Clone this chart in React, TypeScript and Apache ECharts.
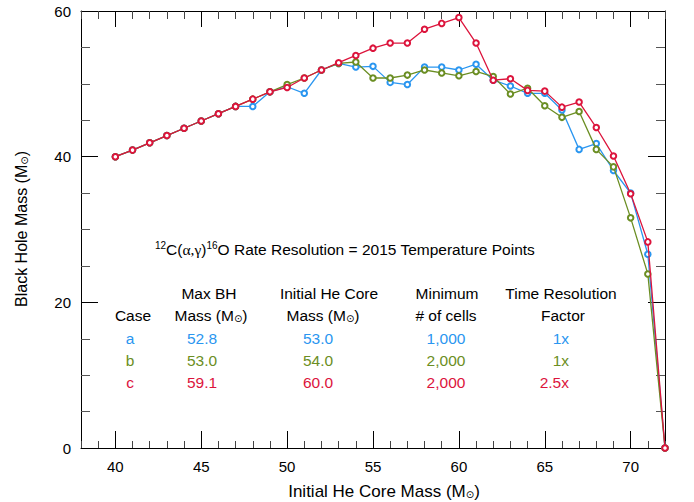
import React, { useEffect, useRef } from 'react';
import * as echarts from 'echarts';

const initialMass = [40, 41, 42, 43, 44, 45, 46, 47, 48, 49, 50, 51, 52, 53, 54, 55, 56, 57, 58, 59, 60, 61, 62, 63, 64, 65, 66, 67, 68, 69, 70, 71, 72];
const caseA = [40.0, 40.9, 41.9, 42.9, 43.9, 44.9, 45.9, 46.9, 46.9, 48.9, 49.6, 48.7, 51.9, 52.8, 52.3, 52.4, 50.2, 49.9, 52.3, 52.3, 51.9, 52.7, 50.5, 49.7, 48.7, 48.7, 46.4, 41.0, 41.8, 38.1, 35.0, 26.6, 0];
const caseB = [40.0, 40.9, 41.9, 42.9, 43.9, 44.9, 45.9, 46.9, 47.9, 48.9, 49.9, 50.8, 51.9, 52.8, 53.0, 50.8, 50.8, 51.2, 51.9, 51.5, 51.1, 51.7, 51.0, 48.6, 49.4, 47.0, 45.4, 46.2, 41.0, 38.6, 31.6, 23.9, 0];
const caseC = [40.0, 40.9, 41.9, 42.9, 43.9, 44.9, 45.9, 46.9, 47.9, 48.9, 49.5, 50.8, 51.9, 52.9, 53.9, 54.9, 55.6, 55.6, 57.5, 58.3, 59.1, 55.6, 50.5, 50.7, 49.1, 49.0, 46.8, 47.5, 44.0, 40.1, 34.9, 28.3, 0];

const caseNames = ['a', 'b', 'c'];
const maxBH = ['52.8', '53.0', '59.1'];
const heCore = ['53.0', '54.0', '60.0'];
const minCells = ['1,000', '2,000', '2,000'];
const timeRes = ['1x', '1x', '2.5x'];

const COLORS = ['#2a96f0', '#6b8e23', '#dc143c'];
const FONT = '"Liberation Sans", Arial, Helvetica, sans-serif';

export default function App() {
  const ref = useRef<HTMLDivElement>(null);
  useEffect(() => {
    const chart = echarts.init(ref.current!, null, { renderer: 'svg' });
    const L = 81, T = 11, W = 584, H = 437;
    const pxPer = W / 34;
    const mk = (vals: number[]) => initialMass.map((x, i) => [x, vals[i]]);
    const allSeries = [caseA, caseB, caseC].map((vals, i) => ({
      type: 'line',
      name: caseNames[i],
      xAxisIndex: 0,
      yAxisIndex: 0,
      data: mk(vals),
      symbol: 'emptyCircle',
      symbolSize: 5.5,
      showAllSymbol: true,
      itemStyle: { color: COLORS[i], borderColor: COLORS[i], borderWidth: 0.9 },
      lineStyle: { color: COLORS[i], width: 1.3 },
      z: 3 + i,
    }));

    const baseText = { fontFamily: FONT, fontSize: 15.5, fill: '#000' };
    const sunRich = { s: { fontSize: 10, fontFamily: '"DejaVu Sans", sans-serif', padding: [6, 0, 0, 0] } };
    const graphics: any[] = [];
    const txt = (x: number, y: number, text: string, color = '#000', align = 'center', extra: any = {}) => {
      graphics.push({
        type: 'text', x, y, z: 10,
        style: { ...baseText, text, fill: color, align, verticalAlign: 'middle', rich: sunRich, ...extra },
      });
    };
    // title
    graphics.push({
      type: 'text', x: 155, y: 249, z: 10,
      style: {
        ...baseText,
        text: '{sup|12}C({g|α,γ}){sup|16}O Rate Resolution = 2015 Temperature Points',
        align: 'left', verticalAlign: 'middle',
        rich: {
          sup: { fontSize: 10, fontFamily: FONT, padding: [0, 0, 8, 0] },
          g: { fontSize: 15.5, fontFamily: '"Liberation Serif", serif' },
        },
      },
    });
    // headers
    txt(133, 315, 'Case');
    txt(209, 293, 'Max BH');
    txt(211, 315, 'Mass (M{s|⊙})');
    txt(329, 293, 'Initial He Core');
    txt(323, 315, 'Mass (M{s|⊙})');
    txt(447, 293, 'Minimum');
    txt(446, 315, '# of cells');
    txt(561, 293, 'Time Resolution');
    txt(563, 315, 'Factor');
    const rowY = [338, 360, 382];
    caseNames.forEach((c, i) => {
      txt(130, rowY[i], c, COLORS[i]);
      txt(202, rowY[i], maxBH[i], COLORS[i]);
      txt(318, rowY[i], heCore[i], COLORS[i]);
      txt(446, rowY[i], minCells[i], COLORS[i]);
      txt(569, rowY[i], timeRes[i], COLORS[i], 'right');
    });
    // axis names
    txt(384, 491, 'Initial He Core Mass (M{s|⊙})', '#000', 'center', { fontSize: 17 });
    graphics.push({
      type: 'text', x: 21, y: 229, rotation: Math.PI / 2, z: 10,
      style: { ...baseText, fontSize: 16, text: 'Black Hole Mass (M{s|⊙})', align: 'center', verticalAlign: 'middle', rich: sunRich },
    });

    const black = '#000';
    const minorX = (pos: string, len: number) => ({
      type: 'value', gridIndex: 0, position: pos, min: 38, max: 72, interval: 1,
      axisLine: { show: true, onZero: false, lineStyle: { color: black, width: 1 } },
      axisTick: { show: true, inside: true, length: len, lineStyle: { color: '#444', width: 1 } },
      axisLabel: { show: false }, splitLine: { show: false },
    });
    const majorX = (pos: string, len: number, labels: boolean) => ({
      type: 'value', gridIndex: 1, position: pos, min: 40, max: 70, interval: 5,
      axisLine: { show: false, onZero: false },
      axisTick: { show: true, inside: true, length: len, lineStyle: { color: black, width: 1 } },
      axisLabel: { show: labels, fontSize: 15, fontFamily: FONT, color: black, margin: 11 },
      splitLine: { show: false },
    });
    const yAx = (pos: string, labels: boolean) => ({
      type: 'value', gridIndex: 0, position: pos, min: 0, max: 60, interval: 20,
      axisLine: { show: true, onZero: false, lineStyle: { color: black, width: 1 } },
      axisTick: { show: true, inside: true, length: 17, lineStyle: { color: black, width: 1 } },
      minorTick: { show: true, splitNumber: 4, length: 9, lineStyle: { color: '#555', width: 1 } },
      axisLabel: { show: labels, fontSize: 15, fontFamily: FONT, color: black, margin: 10 },
      splitLine: { show: false }, minorSplitLine: { show: false },
    });

    const option: any = {
      animation: false,
      backgroundColor: '#fff',
      grid: [
        { left: L, top: T, width: W, height: H },
        { left: L + 2 * pxPer, top: T, width: 30 * pxPer, height: H },
      ],
      xAxis: [minorX('bottom', 7), minorX('top', 8), majorX('bottom', 17, true), majorX('top', 16, false)],
      yAxis: [yAx('left', true), yAx('right', false), { type: 'value', gridIndex: 1, min: 0, max: 60, show: false }],
      series: allSeries,
      graphic: graphics,
    };
    chart.setOption(option);
    return () => chart.dispose();
  }, []);
  return <div ref={ref} style={{ position: 'absolute', left: 0, top: 0, width: 694, height: 502 }} />;
}
